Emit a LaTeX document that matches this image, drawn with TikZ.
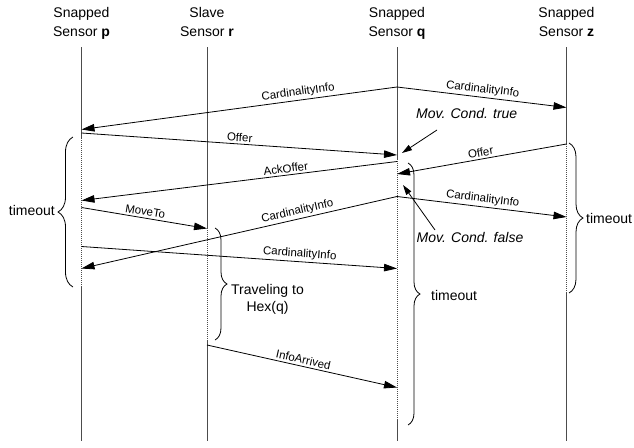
\documentclass[tikz,border=0pt]{standalone}
\usepackage{fontspec}
\setmainfont{Liberation Sans}
\usetikzlibrary{arrows.meta,decorations.pathreplacing}
\begin{document}
\begin{tikzpicture}[x=1pt,y=-1pt,
  life/.style={draw=black!70, line width=0.8pt},
  active/.style={draw=black!70, line width=0.8pt, dash pattern=on 1pt off 1pt},
  msg/.style={draw=black, line width=0.8pt, -{Triangle[length=13pt,width=7.5pt]}},
  note/.style={draw=black, line width=0.8pt, -{Triangle[length=10pt,width=6pt]}},
  lbl/.style={font=\fontsize{11.5}{13}\selectfont, sloped, above, inner sep=2pt},
  head/.style={font=\fontsize{14}{19.5}\selectfont, align=center, anchor=north, inner sep=0pt},
  big/.style={font=\fontsize{14}{17}\selectfont, inner sep=0pt},
  cond/.style={font=\fontsize{14}{17}\selectfont\itshape, inner sep=0pt},
  brc/.style={draw=black, line width=0.8pt, decorate, decoration={brace, amplitude=#1}},
]
\useasboundingbox (0,0) rectangle (634,447);

% headers
\node[head] (hp) at (81.5,7) {Snapped\\Sensor \textbf{p}};
\node[head] (hr) at (207,7) {Slave\\Sensor \textbf{r}};
\node[head] (hq) at (397,7) {Snapped\\Sensor \textbf{q}};
\node[head] (hz) at (566.5,7) {Snapped\\Sensor \textbf{z}};

% lifeline coordinates
\coordinate (p0) at (81.5,47);  \coordinate (pa) at (81.5,138); \coordinate (pb) at (81.5,287); \coordinate (pe) at (81.5,441);
\coordinate (r0) at (207,47);   \coordinate (ra) at (207,228);  \coordinate (rb) at (207,340);  \coordinate (re) at (207,441);
\coordinate (q0) at (397,47);   \coordinate (qa) at (397,159);  \coordinate (qb) at (397,420);  \coordinate (qe) at (397,441);
\coordinate (z0) at (566.5,47); \coordinate (za) at (566.5,144); \coordinate (zb) at (566.5,293); \coordinate (ze) at (566.5,441);

\draw[life] (p0) -- (pa); \draw[active] (pa) -- (pb); \draw[life] (pb) -- (pe);
\draw[life] (r0) -- (ra); \draw[active] (ra) -- (rb); \draw[life] (rb) -- (re);
\draw[life] (q0) -- (qa); \draw[active] (qa) -- (qb); \draw[life] (qb) -- (qe);
\draw[life] (z0) -- (za); \draw[active] (za) -- (zb); \draw[life] (zb) -- (ze);

% message endpoints
\coordinate (m1s) at (397,87);    \coordinate (m1e) at (81.5,129.5);
\coordinate (m2s) at (81.5,133);  \coordinate (m2e) at (397,155);
\coordinate (m3e) at (566.5,107.5);
\coordinate (m4s) at (397,161.5); \coordinate (m4e) at (81.5,200.5);
\coordinate (m5s) at (566.5,144); \coordinate (m5e) at (397,174);
\coordinate (m6s) at (81.5,207.5); \coordinate (m6e) at (207,228.5);
\coordinate (m7s) at (397,196.5); \coordinate (m7e) at (566.5,217);
\coordinate (m8e) at (81.5,268.5);
\coordinate (m9s) at (81.5,246.5); \coordinate (m9e) at (397,268.5);
\coordinate (m10s) at (207,345);  \coordinate (m10e) at (397,387.5);

\draw[msg] (m1s) -- node[lbl, pos=0.31] {CardinalityInfo} (m1e);
\draw[msg] (m2s) -- node[lbl] {Offer} (m2e);
\draw[msg] (m1s) -- node[lbl] {CardinalityInfo} (m3e);
\draw[msg] (m4s) -- node[lbl, pos=0.35] {AckOffer} (m4e);
\draw[msg] (m5s) -- node[lbl] {Offer} (m5e);
\draw[msg] (m6s) -- node[lbl] {MoveTo} (m6e);
\draw[msg] (m7s) -- node[lbl] {CardinalityInfo} (m7e);
\draw[msg] (m7s) -- node[lbl, pos=0.31] {CardinalityInfo} (m8e);
\draw[msg] (m9s) -- node[lbl, pos=0.69] {CardinalityInfo} (m9e);
\draw[msg] (m10s) -- node[lbl] {InfoArrived} (m10e);

% movement conditions
\node[cond] (mtrue) at (466.7,113) {Mov. Cond. true};
\coordinate (mt0) at (437,130); \coordinate (mt1) at (402,153);
\draw[note] (mt0) -- (mt1);
\node[cond] (mfalse) at (470,237) {Mov. Cond. false};
\coordinate (mf0) at (435,230); \coordinate (mf1) at (403,185);
\draw[note] (mf0) -- (mf1);

% braces
\coordinate (bp1) at (73,287); \coordinate (bp2) at (73,137);
\draw[brc=15pt] (bp1) -- (bp2);
\coordinate (br1) at (215,228); \coordinate (br2) at (215,340);
\draw[brc=12pt] (br1) -- (br2);
\coordinate (bq1) at (408,163); \coordinate (bq2) at (408,425);
\draw[brc=12pt] (bq1) -- (bq2);
\coordinate (bz1) at (569,143); \coordinate (bz2) at (569,293);
\draw[brc=14pt] (bz1) -- (bz2);

\node[big, anchor=east] (tp) at (55,210) {timeout};
\node[big, anchor=west] (tq) at (431,295) {timeout};
\node[big, anchor=west] (tz) at (586,218) {timeout};
\node[big, align=center] (trav) at (267.5,299) {Traveling to\\Hex(q)};
\end{tikzpicture}
\end{document}
